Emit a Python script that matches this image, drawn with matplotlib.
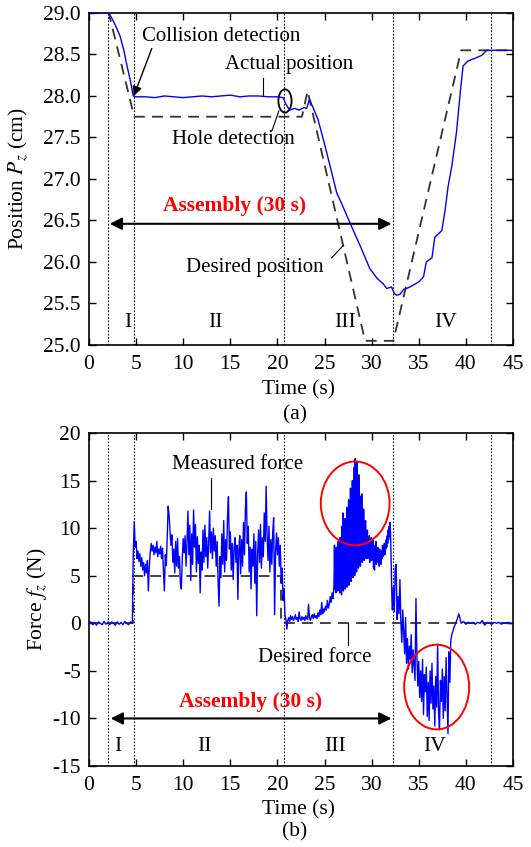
import matplotlib
matplotlib.use('Agg')
import matplotlib.pyplot as plt
from matplotlib.patches import Ellipse
import numpy as np

plt.rcParams['font.family'] = ['Liberation Serif', 'DejaVu Serif']
plt.rcParams['mathtext.fontset'] = 'stix'
plt.rcParams['axes.unicode_minus'] = False

# phase boundaries (s)
phase_lines = [2.0, 4.8, 20.7, 32.3, 42.7]
phase_names = ['I', 'II', 'III', 'IV']

# (a) position
desired_pos_t = [0, 2.1, 4.8, 22.6, 23.2, 29.3, 32.3, 39.5, 45]
desired_pos = [29.0, 29.0, 27.75, 27.75, 28.06, 25.05, 25.05, 28.55, 28.55]

actual_pos_t = [0, 2.0, 2.2, 2.6, 3.0, 3.3, 3.7, 4.0, 4.4, 4.7, 5.0, 6, 7, 8, 9, 10, 11, 12,
                13, 14, 15, 16, 17, 18, 19, 20, 20.6, 20.9, 21.3, 21.8, 22.3, 22.8, 23.1,
                23.4, 23.7, 24.3, 25.0, 25.6, 26.3, 26.75, 27.7, 28.8, 29.8, 30.6, 31.2,
                31.6, 32.1, 32.4, 32.65, 33.0, 33.4, 33.9, 34.4, 35.0, 35.5, 35.8, 36.4,
                36.7, 37.1, 37.45, 37.8, 38.1, 38.5, 39.0, 39.4, 39.7, 40.2, 41.1, 41.7,
                42.2, 45]
actual_pos = [29.0, 29.0, 28.98, 28.9, 28.8, 28.72, 28.55, 28.38, 28.18, 28.0, 27.99, 27.99,
              27.98, 28.0, 27.99, 27.98, 27.99, 28.0, 27.99, 28.0, 28.01, 27.99, 28.0, 28.0,
              27.99, 27.99, 27.98, 27.9, 27.83, 27.85, 27.83, 27.86, 27.85, 27.96, 27.88,
              27.72, 27.42, 27.15, 26.83, 26.72, 26.47, 26.19, 25.92, 25.8, 25.74, 25.68,
              25.7, 25.62, 25.6, 25.61, 25.67, 25.69, 25.72, 25.76, 25.82, 26.0, 26.05,
              26.3, 26.34, 26.38, 26.63, 26.9, 27.15, 27.56, 28.04, 28.36, 28.42, 28.46,
              28.49, 28.55, 28.55]

# (b) force, sampled in segments: (start time, step, values)
desired_force_t = [0, 4.7, 4.7, 20.4, 20.4, 45]
desired_force = [0, 0, 5, 5, 0, 0]

force_free = [0.0, 0.15, -0.15, 0.1, -0.2, 0.15, 0.0, -0.15, 0.2, -0.1, 0.1, -0.15, 0.15,
              0.0, -0.2, 0.15, -0.1, 0.1, -0.15, 0.2, 0.0, -0.15, 0.15, 0.0]
force_contact = [7.2, 10.7, 8.0, 8.6, 6.8, 7.6, 6.5, 7.3, 6.0, 6.9, 5.6, 6.4, 5.0, 6.2, 5.3,
                 6.6, 3.4, 6.0, 7.4, 8.4, 7.6, 8.2, 7.2, 8.0, 7.4, 8.6, 7.0, 7.8, 7.3, 8.1,
                 6.8, 7.9, 5.5, 3.4, 7.2, 6.1, 9.0, 12.3, 11.4, 9.6, 8.2, 9.3, 6.4, 7.8,
                 5.3, 8.6, 6.0, 8.9, 5.8, 7.0, 4.2, 3.6, 6.8, 8.9, 7.4, 9.2, 6.0, 8.5, 11.8,
                 7.2, 10.3, 4.5, 9.4, 6.2, 11.9, 8.0, 10.4, 5.4, 9.1, 6.3, 8.2, 3.2, 7.5,
                 5.6, 9.8, 6.4, 10.3, 7.0, 9.0, 5.8, 8.4, 11.8, 7.4, 9.6, 6.8, 10.0, 7.6,
                 9.2, 6.0, 8.6, 4.4, 1.8, 7.0, 4.8, 9.4, 6.2, 10.8, 5.4, 8.8, 6.6, 11.2,
                 13.3, 7.8, 9.6, 5.6, 8.4, 4.6, 7.8, 9.0, 6.4, 8.2, 2.5, 7.6, 9.2, 5.2, 8.8,
                 6.0, 10.6, 7.2, 12.0, 13.8, 8.4, 10.2, 5.4, 8.0, 3.6, 7.8, 6.0, 9.4, 4.2,
                 8.6, 0.8, 7.2, 9.8, 6.4, 10.4, 5.8, 9.0, 7.0, 11.6, 8.6, 14.4, 9.2, 6.6,
                 10.2, 5.4, 8.8, 6.2, 9.6, 11.1, 0.9, 7.4, 9.5, 7.2, 9.0, 6.0, 8.2, 4.2,
                 5.8, 2.4, 3.6, 0.8]
force_hole = [0.4, -0.6, 0.3, 0.6, 0.2, 0.8, 0.4, 0.7, 0.3, 0.5, 0.9, 0.4, 0.6, 0.2, 1.2,
              0.5, 0.3, 0.7, 0.4, 0.6, 0.3, 0.8, 0.5, 0.4, 2.0, 0.6, 0.3, 0.7, 0.9, 0.5,
              1.0, 0.6, 0.8, 0.5, 1.1, 0.7, 1.4, 0.9, 2.2, 1.0, 1.5, 1.2, 1.8, 1.4, 2.4,
              1.6, 2.0, 2.8, 2.2, 3.2, 2.6]
force_insert = [4.0, 8.2, 3.6, 7.4, 3.2, 8.0, 3.8, 6.8, 3.4, 8.6, 4.0, 7.8, 3.2, 9.0, 3.6,
                8.2, 3.0, 10.2, 3.8, 11.6, 3.4, 9.2, 4.0, 11.0, 3.6, 10.4, 4.2, 12.2, 3.8,
                11.4, 4.4, 13.0, 4.0, 12.0, 4.6, 14.2, 4.4, 13.2, 5.0, 15.0, 4.8, 14.0,
                5.2, 16.4, 5.0, 17.3, 5.6, 15.4, 5.4, 17.0, 6.0, 14.6, 5.8, 15.6, 6.2,
                13.4, 6.0, 12.8, 6.6, 13.6, 6.4, 11.6, 7.0, 12.0, 6.6, 10.4, 7.2, 10.8,
                6.8, 9.4, 7.4, 9.8, 6.8, 8.8, 7.6, 9.2, 6.4, 8.6, 7.2, 9.0, 6.6, 8.4, 7.0,
                8.8, 5.8, 8.2, 5.6, 7.8, 6.8, 8.6, 6.2, 7.6, 7.0, 8.0, 6.4, 7.4, 6.0, 7.8,
                6.6, 7.2, 6.2, 7.6, 6.8, 8.2, 7.0, 7.8, 7.4, 8.4, 7.2, 8.0, 7.8, 8.8, 8.0,
                9.2, 8.4, 9.8, 8.8, 10.2, 9.2, 10.6, 9.6, 7.0, 5.0, 2.6, 1.4]
force_retract = [3.8, 1.2, 5.8, 6.2, 0.4, 2.8, 1.0, 4.6, 0.2, -2.0, 1.4, -0.8, -3.2, 0.6,
                 -4.2, -1.6, -4.8, -2.4, -3.8, -1.2, -5.2, -2.8, -4.4, -6.0, 2.6, -3.4,
                 -6.6, -4.0, -7.8, -5.0, -8.2, -3.8, -9.6, -5.4, -7.2, -4.6, -9.8, -6.2,
                 -10.2, -5.0, -8.4, -4.2, -9.0, -6.6, -10.8, -5.6, -8.8, -2.2, -9.4, -11.2,
                 -6.0, -8.2, -4.8, -10.0, -5.6, -9.2, -3.6, -7.4, -11.6, -3.0, -6.2, -1.8]
force_end = [-1.2, -0.4, 0.2, 1.0, 0.0, 0.2, -0.1, 0.1, 0.0, 0.1, -0.1, 0.1, 0.0, 0.3, -0.2,
             0.1, 0.0, -0.1, 0.1, 0.0, 0.1, -0.1, 0.05, 0.0, 0.1, -0.05, 0.0]

force_segments = [(0.0, 0.2, force_free), (4.7, 0.1, force_contact), (20.9, 0.1, force_hole),
                  (26.0, 0.05, force_insert), (32.3, 0.1, force_retract), (38.5, 0.25, force_end)]

force_t = np.concatenate([t0 + dt * np.arange(len(v)) for t0, dt, v in force_segments])
force = np.concatenate([v for _, _, v in force_segments])

fig = plt.figure(figsize=(5.31, 8.47), dpi=100)
ax1 = fig.add_axes([0.1676, 0.5927, 0.7985, 0.3920])
ax2 = fig.add_axes([0.1676, 0.0956, 0.7985, 0.3932])


def style_axes(ax):
    ax.set_xlim(0, 45)
    ax.set_xticks(range(0, 46, 5))
    ax.tick_params(direction='in', top=True, right=True, labelsize=15.5, length=5, width=1)
    ax.tick_params(axis='x', pad=7)
    ax.tick_params(axis='y', pad=6)
    for s in ax.spines.values():
        s.set_linewidth(1.2)
    for x in phase_lines:
        ax.axvline(x, color='k', ls=(0, (1.5, 1.5)), lw=0.8, zorder=1)


# (a)
style_axes(ax1)
ax1.set_ylim(25.0, 29.0)
ax1.set_yticks(np.arange(25.0, 29.01, 0.5))
ax1.set_yticklabels(['%.1f' % v for v in np.arange(25.0, 29.01, 0.5)])
ax1.plot(desired_pos_t, desired_pos, color='#333333', ls=(0, (6, 4)), lw=1.3, zorder=2)
ax1.plot(actual_pos_t, actual_pos, color='#0000ff', lw=1.0, zorder=3)
ax1.set_ylabel('Position $P_z$ (cm)', fontsize=15.5)
ax1.yaxis.set_label_coords(-0.14, 0.5)

ax1.annotate('Collision detection', xy=(4.75, 28.0), xytext=(5.6, 28.72), fontsize=15,
             ha='left', va='center',
             arrowprops=dict(arrowstyle='-|>', color='k', lw=1, mutation_scale=14,
                             shrinkA=0, shrinkB=0, relpos=(0.07, 0.0)))
ax1.text(21.2, 28.38, 'Actual position', fontsize=15, ha='center', va='center')
ax1.plot([18.5, 18.5], [28.22, 28.0], color='k', lw=0.8)
ax1.text(15.3, 27.47, 'Hole detection', fontsize=15, ha='center', va='center')
ax1.plot([19.45, 20.15], [27.59, 27.82], color='k', lw=0.8)
ax1.add_patch(Ellipse((20.8, 27.94), 1.4, 0.28, fill=False, ec='k', lw=1.3))
ax1.text(17.6, 25.93, 'Desired position', fontsize=15, ha='center', va='center')
ax1.plot([25.75, 27.0], [26.05, 26.2], color='k', lw=0.8)
ax1.text(15.5, 26.67, 'Assembly (30 s)', fontsize=15.5, color='red', fontweight='bold',
         ha='center', va='center')
ax1.annotate('', xy=(2.2, 26.46), xytext=(32.1, 26.46),
             arrowprops=dict(arrowstyle='<|-|>', color='k', lw=1.5, mutation_scale=18,
                             shrinkA=0, shrinkB=0))
for x, name in zip([4.1, 13.4, 27.2, 37.8], phase_names):
    ax1.text(x, 25.27, name, fontsize=15.5, ha='center', va='center')

# (b)
style_axes(ax2)
ax2.set_ylim(-15, 20)
ax2.set_yticks(range(-15, 21, 5))
ax2.plot(desired_force_t, desired_force, color='#333333', ls=(0, (6, 4)), lw=1.3, zorder=2)
ax2.plot(force_t, force, color='#0000ff', lw=1.0, zorder=3)
ax2.set_ylabel('Force $f_z$ (N)', fontsize=15.5)
ax2.yaxis.set_label_coords(-0.095, 0.5)

ax2.text(15.8, 16.7, 'Measured force', fontsize=15, ha='center', va='center')
ax2.plot([12.9, 12.9], [15.3, 12.0], color='k', lw=0.8)
ax2.text(24.0, -3.56, 'Desired force', fontsize=15, ha='center', va='center')
ax2.plot([27.45, 27.45], [0.0, -2.3], color='k', lw=0.8)
ax2.add_patch(Ellipse((28.25, 12.6), 7.3, 8.8, fill=False, ec='red', lw=1.4, zorder=4))
ax2.add_patch(Ellipse((36.9, -6.7), 6.9, 8.9, fill=False, ec='red', lw=1.4, zorder=4))
ax2.text(17.1, -8.3, 'Assembly (30 s)', fontsize=15.5, color='red', fontweight='bold',
         ha='center', va='center')
ax2.annotate('', xy=(2.3, -10.0), xytext=(32.1, -10.0),
             arrowprops=dict(arrowstyle='<|-|>', color='k', lw=1.5, mutation_scale=18,
                             shrinkA=0, shrinkB=0))
for x, name in zip([3.1, 12.3, 26.1, 36.7], phase_names):
    ax2.text(x, -13.0, name, fontsize=15.5, ha='center', va='center')

# x labels and captions
fig.text(0.562, 0.5396, 'Time (s)', fontsize=15.5, ha='center', va='center')
fig.text(0.555, 0.510, '(a)', fontsize=15.5, ha='center', va='center')
fig.text(0.562, 0.0437, 'Time (s)', fontsize=15.5, ha='center', va='center')
fig.text(0.555, 0.0177, '(b)', fontsize=15.5, ha='center', va='center')

fig.savefig('out.png', dpi=100)
